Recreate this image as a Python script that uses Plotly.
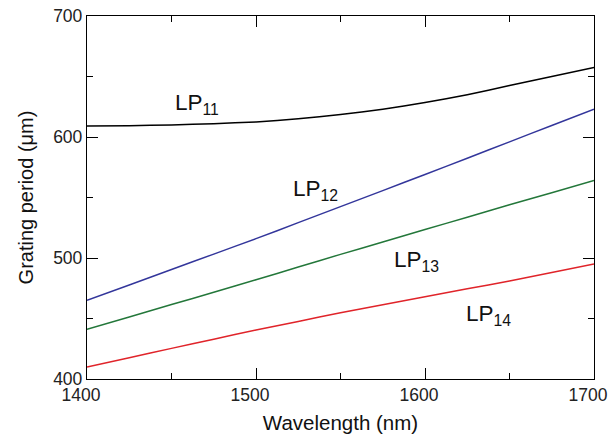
import plotly.graph_objects as go

wavelength = [1400, 1425, 1450, 1475, 1500, 1525, 1550, 1575, 1600, 1625, 1650, 1675, 1700]
lp11 = [609, 609.3, 610, 611, 612.5, 615, 618.5, 623, 628.5, 635, 642.5, 650, 657.5]
lp12 = [465, 477.7, 490.5, 503.2, 516, 529.2, 542.5, 555.7, 569, 582.5, 596, 609.5, 623]
lp13 = [441, 451.2, 461.5, 471.7, 482, 492.5, 503, 513.2, 523.5, 533.7, 544, 554, 564]
lp14 = [410, 417.6, 425.3, 432.9, 440.5, 447.6, 454.8, 461.4, 468, 474.5, 481, 488, 495]

series = [
    ("LP11", lp11, "#000000"),
    ("LP12", lp12, "#33369b"),
    ("LP13", lp13, "#23773a"),
    ("LP14", lp14, "#e0242a"),
]

labels = ["LP<sub>11</sub>", "LP<sub>12</sub>", "LP<sub>13</sub>", "LP<sub>14</sub>"]
label_x = [1465, 1535, 1595, 1637.5]
label_y = [627.3, 556, 497.5, 453]

x_ticks = [1400, 1500, 1600, 1700]
y_ticks = [400, 500, 600, 700]

FONT = "Liberation Sans, Arial"

fig = go.Figure()
for name, vals, col in series:
    fig.add_trace(go.Scatter(
        x=wavelength, y=vals, mode="lines", name=name,
        line=dict(color=col, width=1.5, shape="spline", smoothing=0.6),
        showlegend=False, hoverinfo="skip"))

for t, xv, yv in zip(labels, label_x, label_y):
    fig.add_annotation(x=xv, y=yv, text=t, showarrow=False,
                       xanchor="center", yanchor="middle",
                       font=dict(family=FONT, size=22.5, color="#111"))

axis_common = dict(
    showline=True, linecolor="#000", linewidth=1.3, mirror="allticks",
    ticks="inside", ticklen=11, tickwidth=1, tickcolor="#000",
    showgrid=False, zeroline=False, automargin=False,
    ticklabeloverflow="allow",
    tickfont=dict(family=FONT, size=17.5, color="#222"),
    minor=dict(ticks="inside", ticklen=6, tickwidth=1, tickcolor="#000", dtick=50, showgrid=False),
)

fig.update_xaxes(range=[1400, 1700], tickvals=x_ticks, ticktext=[str(v) for v in x_ticks],
                 ticklabelshift=-6,
                 title=dict(text="Wavelength (nm)", font=dict(family=FONT, size=20.5, color="#111"), standoff=12),
                 **axis_common)
fig.update_yaxes(range=[400, 700], tickvals=y_ticks, ticktext=[str(v) for v in y_ticks],
                 title=dict(text="Grating period (μm)", font=dict(family=FONT, size=20, color="#111"), standoff=14),
                 **axis_common)

fig.update_layout(
    width=610, height=434,
    margin=dict(l=87, r=16, t=16, b=55),
    plot_bgcolor="white", paper_bgcolor="white",
)

fig.write_html("out.html", config={"displayModeBar": False},
               post_script="document.body.style.margin='0';document.body.style.overflow='hidden';")
